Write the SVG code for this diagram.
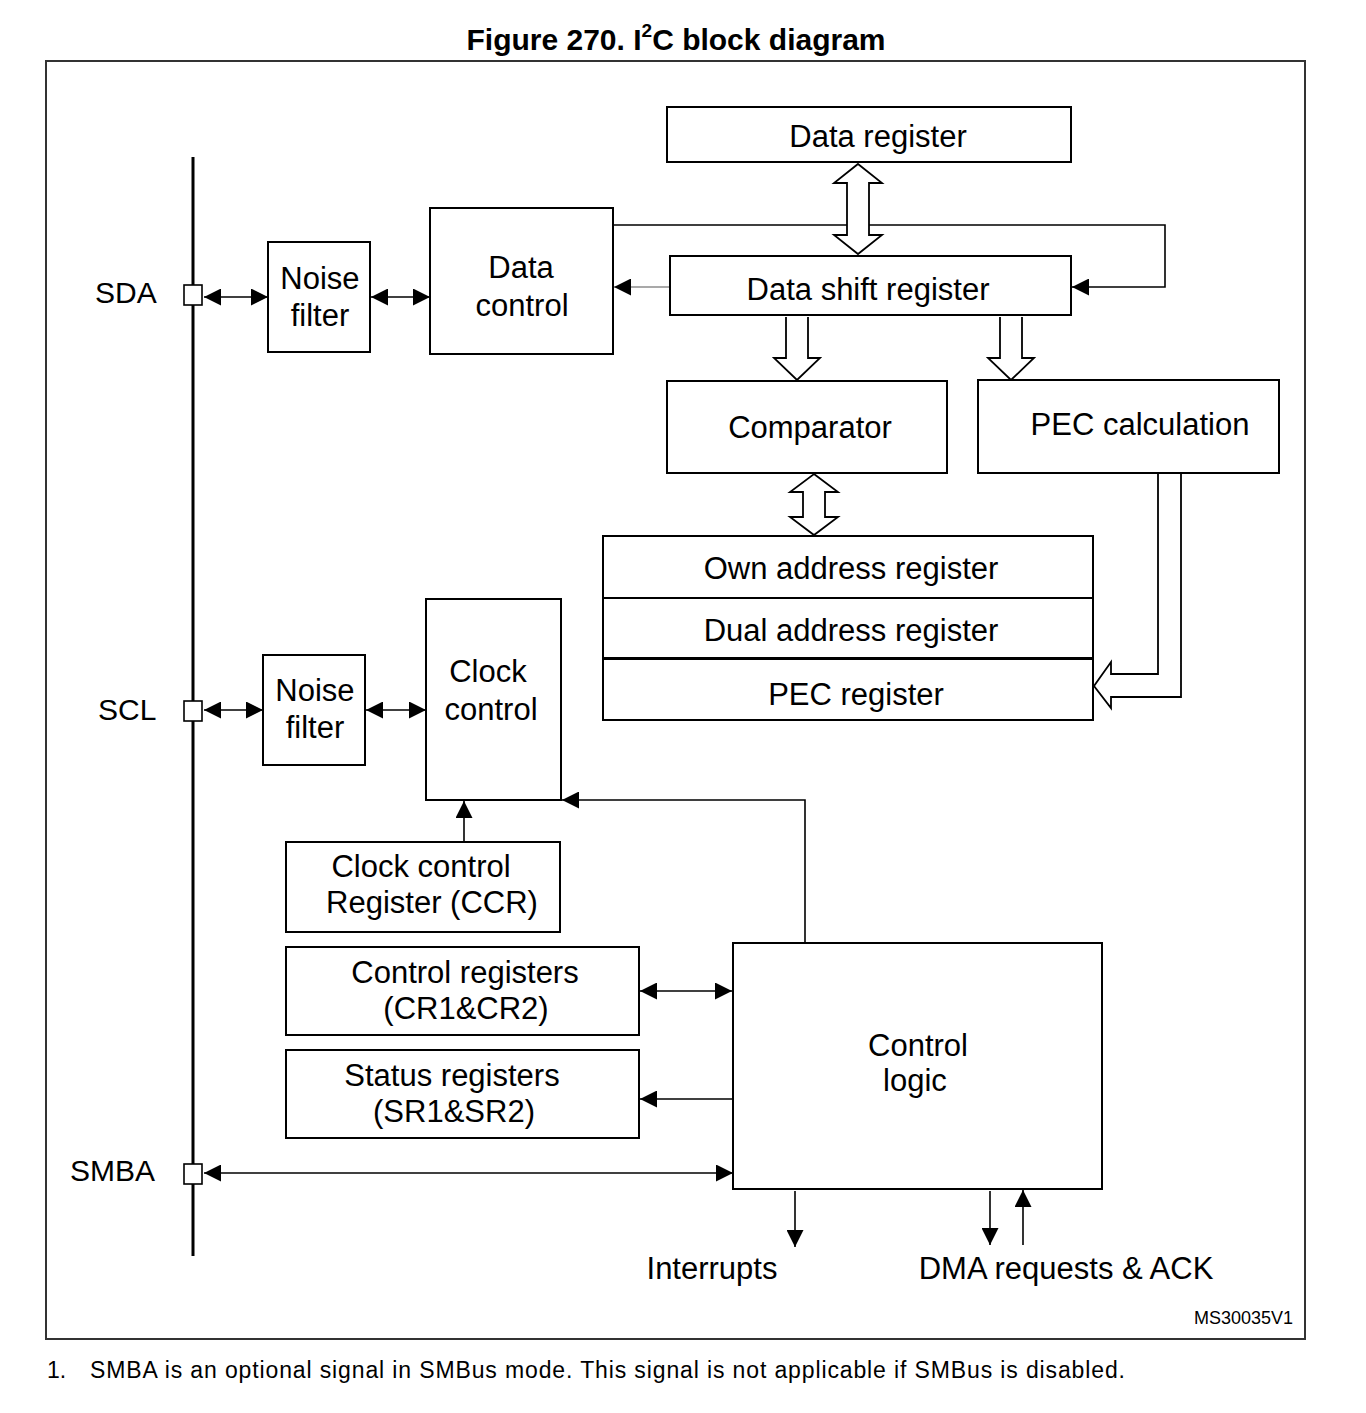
<svg xmlns="http://www.w3.org/2000/svg" width="1366" height="1413" viewBox="0 0 1366 1413">
<defs>
<style>
.box{fill:#fff;stroke:#000;stroke-width:2}
.t{font-family:"Liberation Sans",Arial,sans-serif;font-size:31px;fill:#000;text-anchor:middle;dominant-baseline:central}
.lbl{font-family:"Liberation Sans",Arial,sans-serif;font-size:30px;fill:#000;dominant-baseline:central}
.ln{fill:none;stroke:#000;stroke-width:1.6}
.thin{fill:none;stroke:#555;stroke-width:1.2}
.hollow{fill:#fff;stroke:#000;stroke-width:1.8;stroke-linejoin:miter}
.pin{fill:#fff;stroke:#000;stroke-width:1.6}
</style>
<marker id="ah" viewBox="0 0 10 10" refX="10" refY="5" markerUnits="userSpaceOnUse" markerWidth="18" markerHeight="17" orient="auto-start-reverse">
<path d="M0,0 L10,5 L0,10 z" fill="#000"/>
</marker>
</defs>
<rect width="1366" height="1413" fill="#fff"/>
<text x="676" y="50" font-family="Liberation Sans,Arial,sans-serif" font-size="30" font-weight="bold" text-anchor="middle">Figure 270. I<tspan font-size="19" dy="-13">2</tspan><tspan dy="13">C block diagram</tspan></text>
<rect x="46" y="61" width="1259" height="1278" fill="none" stroke="#333" stroke-width="2"/>

<g id="connectors">
<line x1="193" y1="157" x2="193" y2="1256" stroke="#000" stroke-width="3"/>
<line class="ln" x1="204" y1="297" x2="268" y2="297" marker-start="url(#ah)" marker-end="url(#ah)"/>
<line class="ln" x1="371" y1="297" x2="430" y2="297" marker-start="url(#ah)" marker-end="url(#ah)"/>
<polyline class="ln" points="613,225 1165,225 1165,287 1072,287" marker-end="url(#ah)"/>
<line class="thin" x1="670" y1="287" x2="614" y2="287" marker-end="url(#ah)"/>
<path class="hollow" d="M858,164 L882,183 L869,183 L869,235 L882,235 L858,254 L834,235 L847,235 L847,183 L834,183 Z"/>
<path class="hollow" d="M786,317 L786,358 L774,358 L797,380 L820,358 L808,358 L808,317"/>
<path class="hollow" d="M1000,317 L1000,358 L988,358 L1011,380 L1034,358 L1022,358 L1022,317"/>
<path class="hollow" d="M814,474 L838,492 L825,492 L825,517 L838,517 L814,535 L790,517 L803,517 L803,492 L790,492 Z"/>
<path class="hollow" d="M1158,473 L1158,674 L1111,674 L1111,662 L1094,686 L1111,708 L1111,697 L1181,697 L1181,473"/>
<line class="ln" x1="204" y1="710" x2="263" y2="710" marker-start="url(#ah)" marker-end="url(#ah)"/>
<line class="ln" x1="366" y1="710" x2="426" y2="710" marker-start="url(#ah)" marker-end="url(#ah)"/>
<line class="ln" x1="464" y1="842" x2="464" y2="801" marker-end="url(#ah)"/>
<polyline class="ln" points="805,943 805,800 562,800" marker-end="url(#ah)"/>
<line class="ln" x1="640" y1="991" x2="732" y2="991" marker-start="url(#ah)" marker-end="url(#ah)"/>
<line class="ln" x1="737" y1="1099" x2="640" y2="1099" marker-end="url(#ah)"/>
<line class="ln" x1="204" y1="1173" x2="733" y2="1173" marker-start="url(#ah)" marker-end="url(#ah)"/>
<line class="ln" x1="795" y1="1191" x2="795" y2="1247" marker-end="url(#ah)"/>
<line class="ln" x1="990" y1="1191" x2="990" y2="1245" marker-end="url(#ah)"/>
<line class="ln" x1="1023" y1="1245" x2="1023" y2="1190" marker-end="url(#ah)"/>
</g>

<g id="sda"><text class="lbl" x="95" y="292">SDA</text><rect class="pin" x="184" y="285" width="18" height="20"/></g>
<g id="scl"><text class="lbl" x="98" y="709">SCL</text><rect class="pin" x="184" y="701" width="18" height="20"/></g>
<g id="smba"><text class="lbl" x="70" y="1170">SMBA</text><rect class="pin" x="184" y="1164" width="18" height="20"/></g>

<g id="noise-filter-sda"><rect class="box" x="268" y="242" width="102" height="110"/><text class="t" x="320" y="278">Noise</text><text class="t" x="320" y="315">filter</text></g>
<g id="data-control"><rect class="box" x="430" y="208" width="183" height="146"/><text class="t" x="521" y="267">Data</text><text class="t" x="522" y="305">control</text></g>
<g id="data-register"><rect class="box" x="667" y="107" width="404" height="55"/><text class="t" x="878" y="136">Data register</text></g>
<g id="data-shift-register"><rect class="box" x="670" y="256" width="401" height="59"/><text class="t" x="868" y="289">Data shift register</text></g>
<g id="comparator"><rect class="box" x="667" y="381" width="280" height="92"/><text class="t" x="810" y="427">Comparator</text></g>
<g id="pec-calculation"><rect class="box" x="978" y="380" width="301" height="93"/><text class="t" x="1140" y="424">PEC calculation</text></g>
<g id="own-address-register"><rect class="box" x="603" y="536" width="490" height="62"/><text class="t" x="851" y="568">Own address register</text></g>
<g id="dual-address-register"><rect class="box" x="603" y="598" width="490" height="60"/><text class="t" x="851" y="630">Dual address register</text></g>
<g id="pec-register"><rect class="box" x="603" y="659" width="490" height="61"/><text class="t" x="856" y="694">PEC register</text></g>
<g id="noise-filter-scl"><rect class="box" x="263" y="655" width="102" height="110"/><text class="t" x="315" y="690">Noise</text><text class="t" x="315" y="727">filter</text></g>
<g id="clock-control"><rect class="box" x="426" y="599" width="135" height="201"/><text class="t" x="488" y="671">Clock</text><text class="t" x="491" y="709">control</text></g>
<g id="ccr"><rect class="box" x="286" y="842" width="274" height="90"/><text class="t" x="421" y="866">Clock control</text><text class="t" x="432" y="902">Register (CCR)</text></g>
<g id="control-registers"><rect class="box" x="286" y="947" width="353" height="88"/><text class="t" x="465" y="972">Control registers</text><text class="t" x="466" y="1008">(CR1&amp;CR2)</text></g>
<g id="status-registers"><rect class="box" x="286" y="1050" width="353" height="88"/><text class="t" x="452" y="1075">Status registers</text><text class="t" x="454" y="1111">(SR1&amp;SR2)</text></g>
<g id="control-logic"><rect class="box" x="733" y="943" width="369" height="246"/><text class="t" x="918" y="1045">Control</text><text class="t" x="915" y="1080">logic</text></g>
<g id="interrupts"><text class="t" x="712" y="1268">Interrupts</text></g>
<g id="dma"><text class="t" x="1066" y="1268">DMA requests &amp; ACK</text></g>
<text x="1293" y="1324" font-family="Liberation Sans,Arial,sans-serif" font-size="18" text-anchor="end">MS30035V1</text>
<text x="47" y="1378" font-family="Liberation Sans,Arial,sans-serif" font-size="23">1.</text>
<text x="90" y="1378" font-family="Liberation Sans,Arial,sans-serif" font-size="23" textLength="1035" lengthAdjust="spacing">SMBA is an optional signal in SMBus mode. This signal is not applicable if SMBus is disabled.</text>
</svg>
